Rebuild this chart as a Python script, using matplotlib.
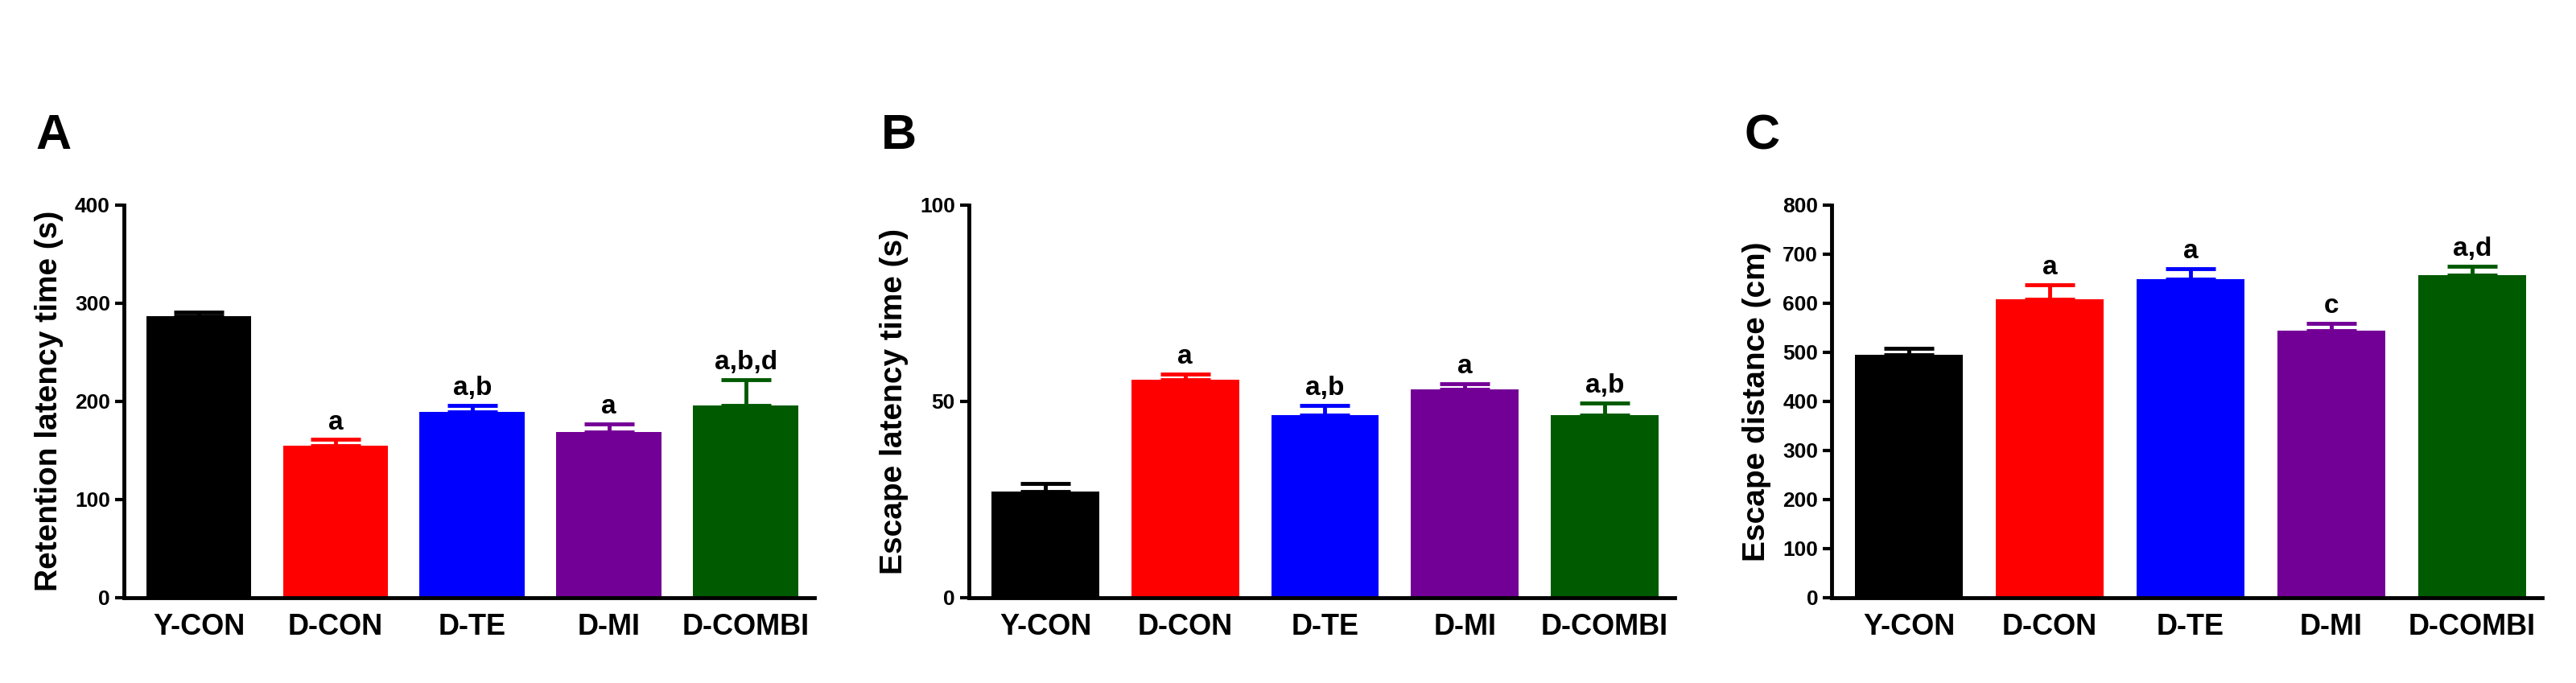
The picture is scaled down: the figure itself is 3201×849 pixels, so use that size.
import matplotlib
matplotlib.use("Agg")
import matplotlib.pyplot as plt

groups = ["Y-CON", "D-CON", "D-TE", "D-MI", "D-COMBI"]
colors = ["#000000", "#ff0000", "#0000ff", "#730096", "#005a00"]

retention = [287, 155, 189, 169, 196]
retention_err = [4, 6, 7, 8, 26]
retention_sig = ["", "a", "a,b", "a", "a,b,d"]

escape_lat = [27, 55.5, 46.5, 53, 46.5]
escape_lat_err = [2, 1.5, 2.5, 1.5, 3]
escape_lat_sig = ["", "a", "a,b", "a", "a,b"]

escape_dist = [495, 607, 648, 544, 657]
escape_dist_err = [13, 30, 22, 15, 18]
escape_dist_sig = ["", "a", "a", "c", "a,d"]

narrow = ["Liberation Sans Narrow", "Liberation Sans", "DejaVu Sans"]
plt.rcParams['font.family'] = ["Liberation Sans", "DejaVu Sans"]

fig = plt.figure(figsize=(32.01, 8.49), dpi=100)
panels = [
    ("A", [0.048, 0.125, 0.268, 0.575], retention, retention_err, retention_sig,
     "Retention latency time (s)", 400, [0, 100, 200, 300, 400]),
    ("B", [0.376, 0.125, 0.274, 0.575], escape_lat, escape_lat_err, escape_lat_sig,
     "Escape latency time (s)", 100, [0, 50, 100]),
    ("C", [0.711, 0.125, 0.276, 0.575], escape_dist, escape_dist_err, escape_dist_sig,
     "Escape distance (cm)", 800, list(range(0, 801, 100))),
]
x = list(range(len(groups)))
for letter, rect, vals, errs, sigs, ylabel, ymax, ticks in panels:
    ax = fig.add_axes(rect)
    ax.bar(x, vals, width=0.77, color=colors, zorder=2)
    for xi, v, e, c, s in zip(x, vals, errs, colors, sigs):
        ax.errorbar(xi, v, yerr=[[0], [e]], color=c, capsize=22, capthick=3.5,
                    elinewidth=3.5, zorder=3)
        if s:
            ax.text(xi, v + e + ymax * 0.012, s, ha="center", va="bottom",
                    fontsize=24, fontweight="bold", family=narrow)
    ax.set_xlim(-0.55, 4.5)
    ax.set_ylim(0, ymax)
    ax.set_yticks(ticks)
    ax.set_xticks(x)
    ax.set_xticklabels(groups, fontsize=26, fontweight="bold", family=narrow)
    for t in ax.get_yticklabels():
        t.set_fontsize(19); t.set_fontweight("bold"); t.set_family(narrow)
    ax.tick_params(axis="y", length=8, width=3, pad=4)
    ax.tick_params(axis="x", length=0, pad=14)
    for sp in ["top", "right"]:
        ax.spines[sp].set_visible(False)
    for sp in ["left", "bottom"]:
        ax.spines[sp].set_linewidth(3.5)
    ax.set_ylabel(ylabel, fontsize=28, fontweight="bold", labelpad=10)
    fig.text(rect[0] - 0.034, 0.8, letter, fontsize=44, fontweight="bold", va="center")

fig.savefig("out.png", dpi=100)
